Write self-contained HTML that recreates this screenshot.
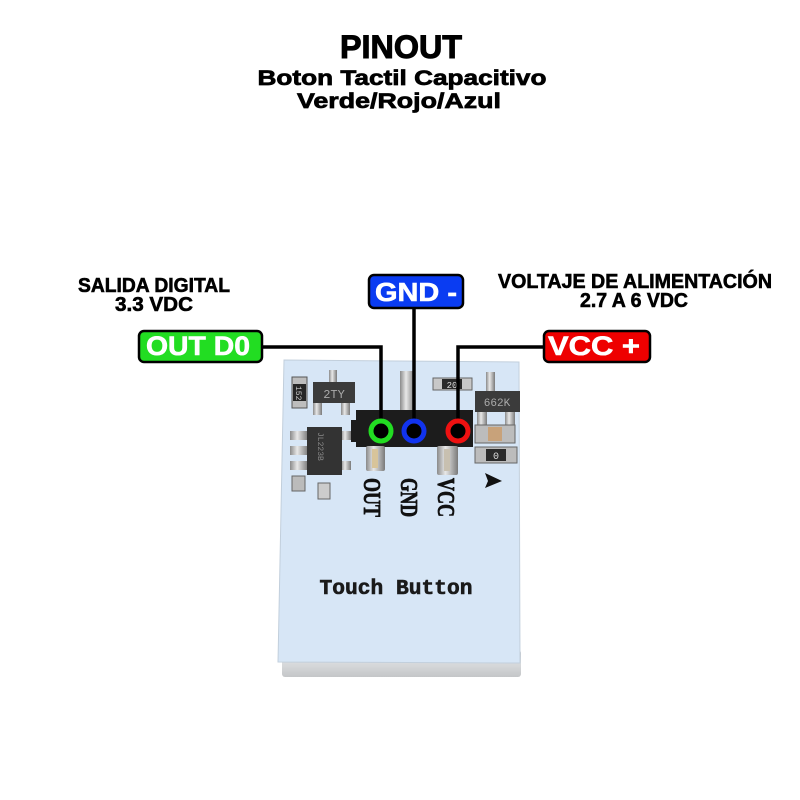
<!DOCTYPE html>
<html><head><meta charset="utf-8"><style>
html,body{margin:0;padding:0;background:#fff;}
svg{display:block;}
</style></head><body>
<svg width="800" height="800" viewBox="0 0 800 800" xmlns="http://www.w3.org/2000/svg">
<defs>
<linearGradient id="strip" x1="0" y1="0" x2="0" y2="1">
<stop offset="0" stop-color="#bfc3c7"/><stop offset="0.5" stop-color="#d8dadc"/><stop offset="1" stop-color="#c4c6c8"/>
</linearGradient>
<linearGradient id="pin" x1="0" y1="0" x2="1" y2="0">
<stop offset="0" stop-color="#8a8a8a"/><stop offset="0.4" stop-color="#e8e8e8"/><stop offset="1" stop-color="#7a7a7a"/>
</linearGradient>
</defs>
<rect width="800" height="800" fill="#fff"/>

<!-- Titles -->
<g font-family="Liberation Sans, sans-serif" font-weight="bold" fill="#000" stroke="#000" text-anchor="middle">
<text x="401" y="58" font-size="32" stroke-width="1" textLength="122" lengthAdjust="spacingAndGlyphs">PINOUT</text>
<text x="402" y="85" font-size="21" stroke-width="0.7" textLength="289" lengthAdjust="spacingAndGlyphs">Boton Tactil Capacitivo</text>
<text x="399" y="108" font-size="21" stroke-width="0.7" textLength="204" lengthAdjust="spacingAndGlyphs">Verde/Rojo/Azul</text>
<text x="154" y="292" font-size="20" stroke-width="0.6" textLength="152" lengthAdjust="spacingAndGlyphs">SALIDA DIGITAL</text>
<text x="154" y="311" font-size="20" stroke-width="0.6" textLength="78" lengthAdjust="spacingAndGlyphs">3.3 VDC</text>
<text x="635" y="288" font-size="20" stroke-width="0.6" textLength="274" lengthAdjust="spacingAndGlyphs">VOLTAJE DE ALIMENTACIÓN</text>
<text x="634" y="307" font-size="20" stroke-width="0.6" textLength="108" lengthAdjust="spacingAndGlyphs">2.7 A 6 VDC</text>
</g>

<!-- Board -->
<rect x="282" y="650" width="239" height="27" rx="3" fill="url(#strip)"/>
<polygon points="284,360 519,362 520,663 278,662" fill="#d7e6f6" stroke="#c2cfdc" stroke-width="1"/>

<!-- Left components -->
<rect x="292" y="377" width="15" height="31" fill="#bdbdbd" stroke="#555" stroke-width="1"/>
<rect x="293" y="384" width="13" height="17" fill="#262626"/>
<text x="0" y="0" transform="translate(296,386) rotate(90)" font-family="Liberation Mono, monospace" font-size="8" fill="#ccc">152</text>
<rect x="329" y="370" width="8" height="13" fill="url(#pin)"/>
<rect x="313" y="402" width="9" height="13" fill="url(#pin)"/>
<rect x="341" y="402" width="9" height="13" fill="url(#pin)"/>
<rect x="313" y="382" width="42" height="21" fill="#3b3b3b"/>
<text x="334" y="398" font-family="Liberation Mono, monospace" font-size="12" fill="#aaa" text-anchor="middle">2TY</text>
<g fill="url(#pin)">
<rect x="290" y="431" width="18" height="9"/><rect x="290" y="446" width="18" height="9"/><rect x="290" y="461" width="18" height="9"/>
<rect x="341" y="431" width="10" height="9"/><rect x="341" y="461" width="10" height="9"/>
</g>
<rect x="307" y="427" width="35" height="48" fill="#333"/>
<text x="0" y="0" transform="translate(318,432) rotate(90)" font-family="Liberation Mono, monospace" font-size="8" fill="#888">JL223B</text>
<rect x="292" y="476" width="13" height="15" fill="#bbb" stroke="#666" stroke-width="1"/>
<rect x="318" y="483" width="12" height="16" fill="#ccc" stroke="#666" stroke-width="1"/>

<!-- Header -->
<rect x="400" y="371" width="15" height="42" fill="url(#pin)"/>
<path d="M356,410 L473,410 L473,447 L356,447 Z" fill="#1c1c1c"/>
<rect x="351" y="420" width="6" height="22" fill="#1c1c1c"/>
<rect x="366" y="446" width="19" height="25" rx="2" fill="url(#pin)"/>
<rect x="372" y="449" width="6" height="19" fill="#d8c49a"/>
<rect x="437" y="446" width="21" height="29" rx="2" fill="url(#pin)"/>
<rect x="444" y="449" width="6" height="22" fill="#c8c0b0"/>

<!-- Right components -->
<rect x="433" y="378" width="39" height="12" fill="#c8c8c8" stroke="#666" stroke-width="1"/>
<rect x="442" y="379" width="20" height="10" fill="#2a2a2a"/>
<text x="452" y="388" font-family="Liberation Mono, monospace" font-size="9" fill="#ddd" text-anchor="middle">20</text>
<rect x="486" y="372" width="9" height="21" fill="url(#pin)"/>
<rect x="477" y="411" width="10" height="14" fill="url(#pin)"/>
<rect x="505" y="411" width="10" height="14" fill="url(#pin)"/>
<rect x="475" y="391" width="45" height="21" fill="#3b3b3b"/>
<text x="497" y="406" font-family="Liberation Mono, monospace" font-size="11" fill="#aaa" text-anchor="middle">662K</text>
<rect x="475" y="425" width="40" height="18" fill="#bcbcbc" stroke="#666" stroke-width="1"/>
<rect x="488" y="427" width="14" height="14" fill="#c8a27a"/>
<rect x="475" y="447" width="42" height="16" fill="#bcbcbc" stroke="#666" stroke-width="1"/>
<rect x="486" y="449" width="20" height="12" fill="#2a2a2a"/>
<text x="496" y="459" font-family="Liberation Mono, monospace" font-size="10" fill="#ddd" text-anchor="middle">0</text>
<polygon points="485,473 502,481 485,488 488,481" fill="#111"/>

<!-- Rotated labels -->
<g font-family="Liberation Serif, serif" font-weight="bold" font-size="24" fill="#111" stroke="#111" stroke-width="0.8">
<text transform="translate(364,478) rotate(90)" textLength="39" lengthAdjust="spacingAndGlyphs">OUT</text>
<text transform="translate(401,478) rotate(90)" textLength="39" lengthAdjust="spacingAndGlyphs">GND</text>
<text transform="translate(438,478) rotate(90)" textLength="39" lengthAdjust="spacingAndGlyphs">VCC</text>
</g>
<text x="396" y="594" font-family="Liberation Mono, monospace" font-weight="bold" font-size="21" fill="#1a1a1a" stroke="#1a1a1a" stroke-width="0.6" text-anchor="middle" textLength="153" lengthAdjust="spacingAndGlyphs">Touch Button</text>

<!-- Connector lines -->
<g stroke="#000" stroke-width="3.5" fill="none">
<polyline points="262,347 381,347 381,430"/>
<polyline points="414,307 414,430"/>
<polyline points="543,347 458,347 458,430"/>
</g>

<!-- Pin circles -->
<circle cx="381" cy="431" r="10" fill="#000" stroke="#22dd22" stroke-width="5"/>
<circle cx="414" cy="431" r="10" fill="#000" stroke="#1133ee" stroke-width="5"/>
<circle cx="458" cy="431" r="10" fill="#000" stroke="#ee1111" stroke-width="5"/>

<!-- Label boxes -->
<g stroke="#000" stroke-width="2.5">
<rect x="139" y="331" width="123" height="31" rx="5" fill="#22dd22"/>
<rect x="369" y="275" width="94" height="33" rx="5" fill="#0a3cf2"/>
<rect x="544" y="331" width="106" height="31" rx="5" fill="#ee0000"/>
</g>
<g font-family="Liberation Sans, sans-serif" font-weight="bold" fill="#fff" stroke="#fff" stroke-width="0.6">
<text x="146" y="355" font-size="27" textLength="104" lengthAdjust="spacingAndGlyphs">OUT D0</text>
<text x="375" y="301" font-size="26" textLength="82" lengthAdjust="spacingAndGlyphs">GND -</text>
<text x="548" y="355" font-size="27" textLength="92" lengthAdjust="spacingAndGlyphs">VCC +</text>
</g>
</svg>
</body></html>
